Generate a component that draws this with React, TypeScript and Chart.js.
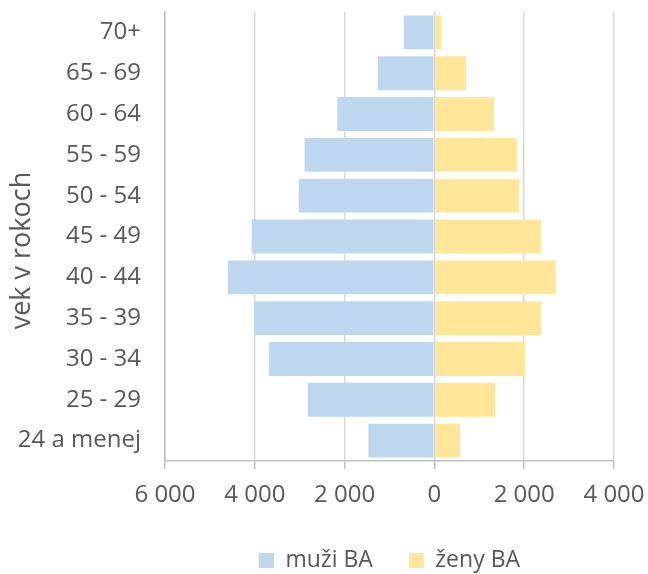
import React, { useEffect, useRef } from "react";
import { Chart, registerables } from "chart.js";

Chart.register(...registerables);

const categories = ["70+", "65 - 69", "60 - 64", "55 - 59", "50 - 54", "45 - 49", "40 - 44", "35 - 39", "30 - 34", "25 - 29", "24 a menej"];
const men = [-680, -1260, -2160, -2890, -3020, -4070, -4600, -4020, -3680, -2820, -1470];
const women = [155, 700, 1330, 1840, 1890, 2380, 2700, 2380, 2020, 1350, 570];
const seriesNames = ["muži BA", "ženy BA"];
const axisTitle = "vek v rokoch";

const FONT = "'Open Sans', sans-serif";
const TEXT = "#595959";

function fmt(v: number): string {
  const a = Math.abs(v);
  return String(a).replace(/\B(?=(\d{3})+(?!\d))/g, " ");
}

export default function App() {
  const ref = useRef<HTMLCanvasElement | null>(null);
  useEffect(() => {
    if (!ref.current) return;
    const chart = new Chart(ref.current, {
      type: "bar",
      data: {
        labels: categories,
        datasets: [
          { label: seriesNames[0], data: men, backgroundColor: "#BDD7EE", borderWidth: 0, categoryPercentage: 1, barPercentage: 0.83 },
          { label: seriesNames[1], data: women, backgroundColor: "#FFE699", borderWidth: 0, categoryPercentage: 1, barPercentage: 0.83 },
        ],
      },
      options: {
        indexAxis: "y",
        animation: false,
        responsive: false,
        layout: { padding: { left: 0, top: 12, right: 34, bottom: 0 } },
        plugins: {
          tooltip: { enabled: false },
          legend: {
            position: "bottom",
            fullSize: false,
            maxHeight: 61,
            labels: {
              boxWidth: 15,
              boxHeight: 15,
              padding: 36,
              color: TEXT,
              font: { family: FONT, size: 23 },
            },
          },
        },
        scales: {
          x: {
            stacked: true,
            min: -6000,
            max: 4000,
            ticks: {
              stepSize: 2000,
              color: TEXT,
              font: { family: FONT, size: 24 },
              padding: 12,
              maxRotation: 0,
              callback: (v: any) => fmt(Number(v)),
            },
            grid: { color: "#D9D9D9", lineWidth: 1.5, tickColor: "#BFBFBF", tickLength: 8, drawTicks: true },
            border: { color: "#BFBFBF", width: 1.5 },
            afterFit: (s: any) => { s.height = 52; s.paddingLeft = 0; s.paddingRight = 0; },
          },
          y: {
            stacked: true,
            ticks: { color: TEXT, font: { family: FONT, size: 24 }, padding: 24 },
            grid: { display: false, drawTicks: false },
            border: { color: "#BFBFBF", width: 1.5 },
            title: { display: true, text: axisTitle + "\u00A0\u00A0\u00A0\u00A0", color: TEXT, font: { family: FONT, size: 27 }, padding: { top: 6, bottom: 0 } },
            afterFit: (s: any) => { s.width = 165; s.paddingTop = 0; s.paddingBottom = 0; },
          },
        },
      },
    });
    return () => chart.destroy();
  }, []);
  return (
    <div style={{ position: "fixed", left: 0, top: 0, width: 648, height: 574, background: "#fff" }}>
      <canvas ref={ref} width={648} height={574} style={{ width: 648, height: 574 }} />
    </div>
  );
}
